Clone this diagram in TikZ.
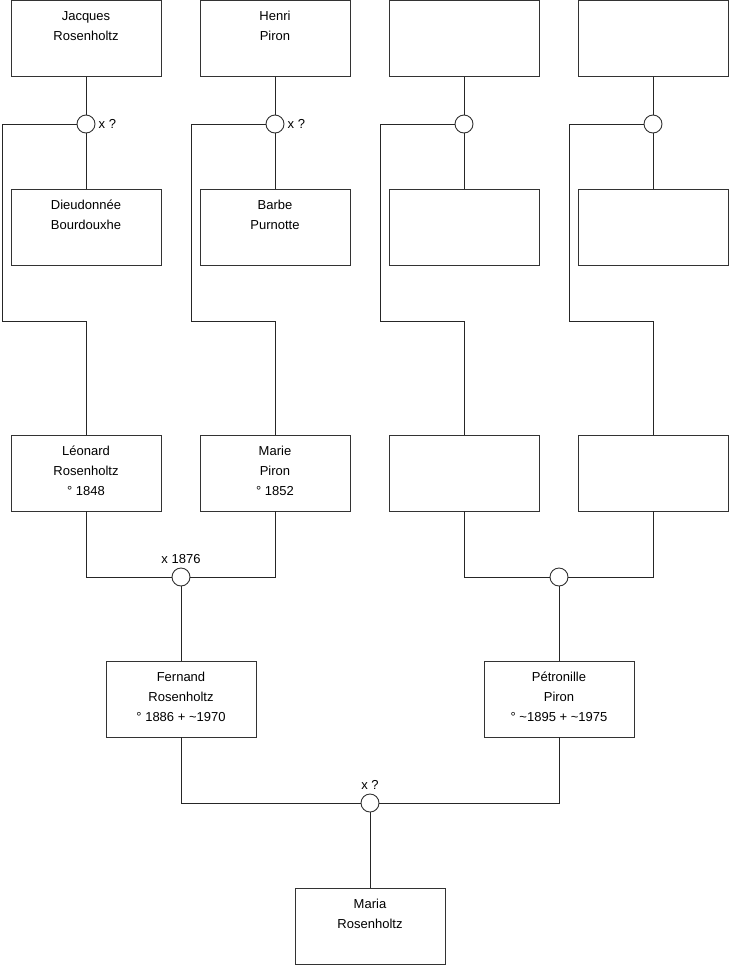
\documentclass[tikz,border=0pt]{standalone}
\usepackage{fontspec}
\setmainfont{Liberation Sans}
\usetikzlibrary{positioning,calc}
\tikzset{
  person/.style={draw=black!80,line width=0.9pt,minimum width=150pt,
    minimum height=76pt,inner sep=0pt},
  ptext/.style={align=center,font=\fontsize{13}{20}\selectfont,inner sep=0pt},
  union/.style={circle,draw=black!80,fill=white,line width=0.9pt,
    minimum size=18pt,inner sep=0pt},
  link/.style={line width=0.9pt,black!85},
  ulbl/.style={font=\fontsize{13}{15}\selectfont,inner sep=1pt},
}
\newcommand{\tld}{\textasciitilde}

\begin{document}
\begin{tikzpicture}[x=1pt,y=-1pt]
  \useasboundingbox (0,0) rectangle (740,975);
  % great-grandparents
  \node[person] (jacques) at (86,38.5) {};
  \node[ptext,below=11pt of jacques.north] {Jacques\\Rosenholtz};
  \node[person] (henri) at (275,38.5) {};
  \node[ptext,below=11pt of henri.north] {Henri\\Piron};
  \node[person] (ggf3) at (464,38.5) {};
  \node[person] (ggf4) at (653,38.5) {};
  \node[union] (u1) at (86,124) {};
  \node[union] (u2) at (275,124) {};
  \node[union] (u3) at (464,124) {};
  \node[union] (u4) at (653,124) {};
  \node[ulbl,right=2pt of u1] {x ?};
  \node[ulbl,right=2pt of u2] {x ?};
  \node[person] (dieudonnee) at (86,227) {};
  \node[ptext,below=11pt of dieudonnee.north] {Dieudonnée\\Bourdouxhe};
  \node[person] (barbe) at (275,227) {};
  \node[ptext,below=11pt of barbe.north] {Barbe\\Purnotte};
  \node[person] (ggm3) at (464,227) {};
  \node[person] (ggm4) at (653,227) {};
  % grandparents
  \node[person] (leonard) at (86,473) {};
  \node[ptext,below=11pt of leonard.north] {Léonard\\Rosenholtz\\° 1848};
  \node[person] (marie) at (275,473) {};
  \node[ptext,below=11pt of marie.north] {Marie\\Piron\\° 1852};
  \node[person] (gf2) at (464,473) {};
  \node[person] (gm2) at (653,473) {};
  \node[union] (u5) at (181,577) {};
  \node[union] (u6) at (559,577) {};
  \node[ulbl,above=3pt of u5] {x 1876};
  % parents
  \node[person] (fernand) at (181,699) {};
  \node[ptext,below=11pt of fernand.north] {Fernand\\Rosenholtz\\° 1886 + \tld1970};
  \node[person] (petronille) at (559,699) {};
  \node[ptext,below=11pt of petronille.north] {Pétronille\\Piron\\° \tld1895 + \tld1975};
  \node[union] (u7) at (370,803) {};
  \node[ulbl,above=3pt of u7] {x ?};
  \node[person] (maria) at (370,926) {};
  \node[ptext,below=11pt of maria.north] {Maria\\Rosenholtz};
  % rails
  \coordinate (r1) at (2,321);
  \coordinate (r2) at (191,321);
  \coordinate (r3) at (380,321);
  \coordinate (r4) at (569,321);
  % links
  \draw[link] (jacques) -- (u1) -- (dieudonnee);
  \draw[link] (henri) -- (u2) -- (barbe);
  \draw[link] (ggf3) -- (u3) -- (ggm3);
  \draw[link] (ggf4) -- (u4) -- (ggm4);
  \draw[link] (u1.west) -| (r1) -| (leonard.north);
  \draw[link] (u2.west) -| (r2) -| (marie.north);
  \draw[link] (u3.west) -| (r3) -| (gf2.north);
  \draw[link] (u4.west) -| (r4) -| (gm2.north);
  \draw[link] (leonard.south) |- (u5.west);
  \draw[link] (u5.east) -| (marie.south);
  \draw[link] (gf2.south) |- (u6.west);
  \draw[link] (u6.east) -| (gm2.south);
  \draw[link] (u5) -- (fernand);
  \draw[link] (u6) -- (petronille);
  \draw[link] (fernand.south) |- (u7.west);
  \draw[link] (u7.east) -| (petronille.south);
  \draw[link] (u7) -- (maria);
\end{tikzpicture}
\end{document}
